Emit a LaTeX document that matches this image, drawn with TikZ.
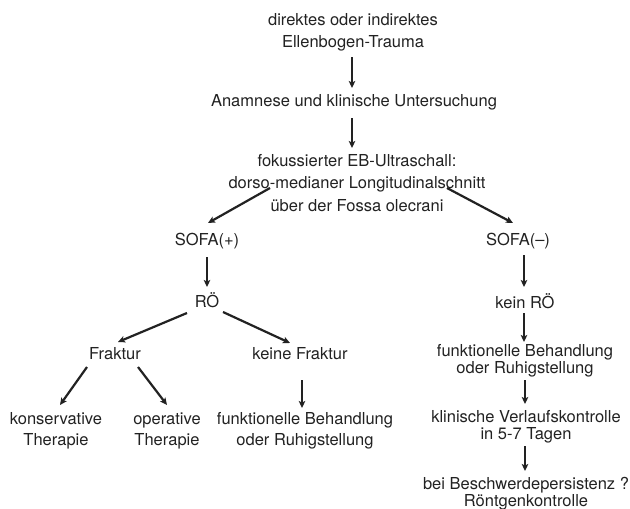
\documentclass[tikz,border=0pt]{standalone}
\usepackage{fontspec}
\setmainfont{TeX Gyre Heros}
\usetikzlibrary{arrows.meta}
\definecolor{ink}{HTML}{222222}
\begin{document}
\begin{tikzpicture}[x=1pt,y=-1pt,
  txt/.style={inner sep=0pt,align=center,text=ink,font=\fontsize{16.5}{21.5}\selectfont},
  tight/.style={font=\fontsize{16.5}{17.5}\selectfont},
  arr/.style={line width=2.2pt,draw=ink,-{Stealth[length=7pt,width=6.5pt,inset=1.5pt]}}]
\useasboundingbox[fill=white] (0,0) rectangle (630,509);
% nodes
\node[txt] (top) at (353,32.5) {direktes oder indirektes\\Ellenbogen-Trauma};
\node[txt] (anam) at (354,102) {Anamnese und klinische Untersuchung};
\node[txt,font=\fontsize{16.5}{22.5}\selectfont] (fok) at (357,183) {fokussierter EB-Ultraschall:\\dorso-medianer Longitudinalschnitt\\über der Fossa olecrani};
\node[txt] (sofap) at (207,241) {SOFA(+)};
\node[txt] (ro) at (207,300) {RÖ};
\node[txt] (frak) at (115,354) {Fraktur};
\node[txt] (kfrak) at (300,354) {keine Fraktur};
\node[txt] (kons) at (56,431) {konservative\\Therapie};
\node[txt] (oper) at (167,431) {operative\\Therapie};
\node[txt] (funkL) at (305,431) {funktionelle Behandlung\\oder Ruhigstellung};
\node[txt] (sofam) at (518,241) {SOFA(--)};
\node[txt] (keinro) at (525,301) {kein RÖ};
\node[txt,tight] (funkR) at (525,361) {funktionelle Behandlung\\oder Ruhigstellung};
\node[txt,tight] (klin) at (526,427) {klinische Verlaufskontrolle\\in 5-7 Tagen};
\node[txt,tight] (bei) at (526,493.5) {bei Beschwerdepersistenz ?\\Röntgenkontrolle};
% connectors
\draw[arr] ([shift={(-1,24.5)}]top.center) -- ([shift={(-2,-14)}]anam.center);
\draw[arr] ([shift={(-2,16)}]anam.center) -- ([shift={(-5,-35)}]fok.center);
\draw[arr] ([shift={(-87,5)}]fok.center) -- ([shift={(1,-18)}]sofap.center);
\draw[arr] ([shift={(90,5)}]fok.center) -- ([shift={(-5,-18)}]sofam.center);
\draw[arr] ([shift={(0,16)}]sofap.center) -- ([shift={(0,-13)}]ro.center);
\draw[arr] ([shift={(-20,13)}]ro.center) -- ([shift={(3,-12)}]frak.center);
\draw[arr] ([shift={(16,12)}]ro.center) -- ([shift={(-10,-11)}]kfrak.center);
\draw[arr] ([shift={(-28,13)}]frak.center) -- ([shift={(4,-26)}]kons.center);
\draw[arr] ([shift={(23,13)}]frak.center) -- ([shift={(0,-26)}]oper.center);
\draw[arr] ([shift={(2,26)}]kfrak.center) -- ([shift={(-3,-23)}]funkL.center);
\draw[arr] ([shift={(6,14)}]sofam.center) -- ([shift={(-1,-14)}]keinro.center);
\draw[arr] ([shift={(-1,12)}]keinro.center) -- ([shift={(-1,-19)}]funkR.center);
\draw[arr] ([shift={(0,19)}]funkR.center) -- ([shift={(-1,-23)}]klin.center);
\draw[arr] ([shift={(-1,19)}]klin.center) -- ([shift={(-1,-22.5)}]bei.center);
\end{tikzpicture}
\end{document}
